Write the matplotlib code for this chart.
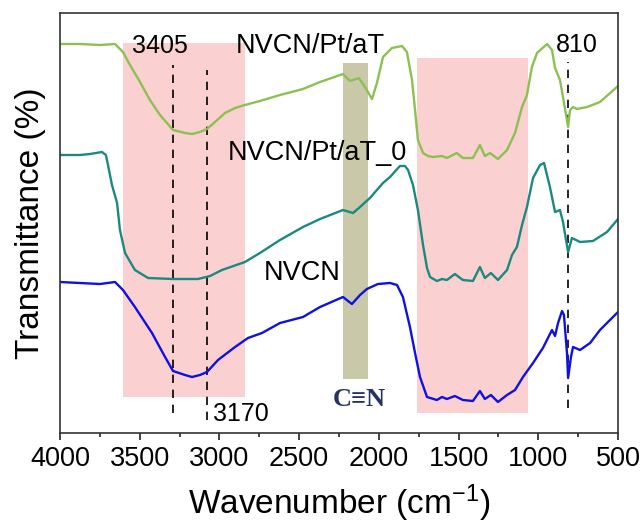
import matplotlib
matplotlib.use("Agg")
import matplotlib.pyplot as plt
from matplotlib.ticker import MultipleLocator

plt.rcParams['font.family'] = ['Liberation Sans', 'DejaVu Sans']
plt.rcParams['mathtext.fontset'] = 'custom'
plt.rcParams['mathtext.rm'] = 'Liberation Sans'
plt.rcParams['mathtext.it'] = 'Liberation Sans'

# NVCN/Pt/aT (top, green)
wn_aT = [4000, 3875, 3749, 3655, 3605, 3561, 3498, 3436, 3373, 3291, 3216, 3172, 3122, 3078,
         3028, 2965, 2902, 2840, 2746, 2620, 2476, 2369, 2225, 2181, 2125, 2087, 2043, 2012,
         1974, 1918, 1855, 1824, 1792, 1773, 1755, 1723, 1692, 1661, 1604, 1573, 1511, 1473,
         1410, 1366, 1335, 1303, 1253, 1196, 1146, 1102, 1071, 1040, 1008, 945, 914, 895,
         864, 845, 813, 801, 782, 757, 694, 613, 500]
T_aT = [389, 389, 388, 389, 381, 368, 351, 333, 318, 303, 300, 299, 301, 304,
        311, 320, 325, 328, 332, 338, 344, 351, 359, 352, 355, 346, 334, 350,
        376, 385, 387, 381, 353, 323, 293, 280, 277, 276, 277, 275, 280, 275,
        275, 288, 277, 280, 274, 283, 300, 326, 338, 366, 380, 389, 383, 365,
        353, 336, 306, 323, 326, 324, 326, 331, 347]

# NVCN/Pt/aT_0 (middle, teal)
wn_aT0 = [4000, 3875, 3812, 3737, 3712, 3699, 3674, 3642, 3624, 3592, 3530, 3448, 3291, 3134,
          3059, 2984, 2840, 2746, 2620, 2476, 2369, 2225, 2162, 2118, 2056, 1974, 1930, 1868,
          1836, 1817, 1786, 1755, 1723, 1698, 1679, 1636, 1604, 1573, 1523, 1473, 1410, 1366,
          1335, 1297, 1253, 1196, 1165, 1134, 1102, 1071, 1033, 989, 964, 927, 895, 864,
          845, 826, 813, 789, 738, 657, 569, 500]
T_aT0 = [278, 278, 279, 281, 278, 268, 248, 230, 203, 180, 163, 155, 154, 154,
         157, 163, 171, 180, 193, 206, 214, 223, 220, 226, 235, 250, 256, 267,
         267, 263, 248, 223, 188, 165, 156, 152, 154, 153, 159, 153, 152, 166,
         155, 160, 153, 163, 178, 186, 208, 226, 255, 268, 270, 246, 221, 223,
         211, 193, 181, 195, 191, 192, 201, 214]

# NVCN (bottom, blue)
wn_N = [4000, 3875, 3749, 3655, 3605, 3530, 3423, 3341, 3291, 3216, 3172, 3122, 3078, 3009,
        2902, 2821, 2733, 2620, 2476, 2369, 2225, 2169, 2118, 2075, 2006, 1930, 1886, 1849,
        1805, 1773, 1742, 1698, 1636, 1604, 1573, 1523, 1473, 1410, 1366, 1335, 1297, 1253,
        1196, 1146, 1096, 1033, 971, 914, 895, 876, 851, 839, 820, 813, 795, 782,
        738, 675, 613, 500]
T_N = [151, 150, 149, 151, 143, 126, 100, 76, 62, 58, 56, 58, 61, 73,
       86, 95, 100, 110, 116, 126, 136, 129, 138, 144, 149, 150, 148, 136,
       106, 80, 56, 36, 33, 36, 34, 37, 33, 32, 42, 34, 38, 31,
       38, 43, 56, 70, 85, 103, 97, 110, 122, 118, 80, 55, 76, 86,
       83, 90, 103, 121]

# shaded bands: (high wn, low wn, bottom T, top T)
bands_pink = [(3605, 2840, 36, 390), (1761, 1065, 20, 375)]
band_cn = (2225, 2068, 54, 370)
# dashed markers: (wn, bottom T, top T)
markers = [(3291, 20, 368), (3078, 13, 363), (813, 25, 371)]

fig = plt.figure(figsize=(6.43, 5.26), dpi=100)
ax = fig.add_axes([60/643, 1-433/526, 558/643, 420/526])

for hi, lo, b, t in bands_pink:
    ax.fill_between([lo, hi], b, t, color='#fad0d0', lw=0, zorder=0)
ax.fill_between([band_cn[1], band_cn[0]], band_cn[2], band_cn[3], color='#c9c9a9', lw=0, zorder=0)

for w, b, t in markers:
    ax.plot([w, w], [b, t], color='black', lw=1.2, ls=(0, (5, 4)), zorder=1)

ax.plot(wn_aT, T_aT, color='#8cc152', lw=1.7, zorder=2)
ax.plot(wn_aT0, T_aT0, color='#1a8a80', lw=1.7, zorder=2)
ax.plot(wn_N, T_N, color='#1010e0', lw=1.7, zorder=2)

ax.set_xlim(4000, 500)
ax.set_ylim(0, 420)
ax.xaxis.set_major_locator(MultipleLocator(500))
ax.xaxis.set_minor_locator(MultipleLocator(250))
ax.tick_params(axis='x', which='major', direction='out', length=5, width=1.2,
               labelsize=19.5, pad=4, colors='#222222', labelcolor='black')
ax.tick_params(axis='x', which='minor', direction='out', length=3, width=1.2, colors='#222222')
ax.set_yticks([])
for s in ax.spines.values():
    s.set_linewidth(1.2)
    s.set_color('#333333')

ax.set_xlabel('Wavenumber (cm$^{-1}$)', fontsize=24, labelpad=8)
ax.set_ylabel('Transmittance (%)', fontsize=24, labelpad=10)

ax.text(3373, 380, '3405', fontsize=18, ha='center', va='baseline')
ax.text(2865, 12, '3170', fontsize=18, ha='center', va='baseline')
ax.text(757, 381, '810', fontsize=18, ha='center', va='baseline')
ax.text(2432, 380, 'NVCN/Pt/aT', fontsize=19.5, ha='center', va='baseline')
ax.text(2388, 273, 'NVCN/Pt/aT_0', fontsize=19.5, ha='center', va='baseline')
ax.text(2482, 153, 'NVCN', fontsize=19.5, ha='center', va='baseline')
ax.text(2125, 33, 'C≡N', fontsize=19, ha='center', va='center', fontweight='bold',
        color='#25335e', family=['Liberation Serif', 'DejaVu Serif'])

fig.savefig('out.png', dpi=100)
